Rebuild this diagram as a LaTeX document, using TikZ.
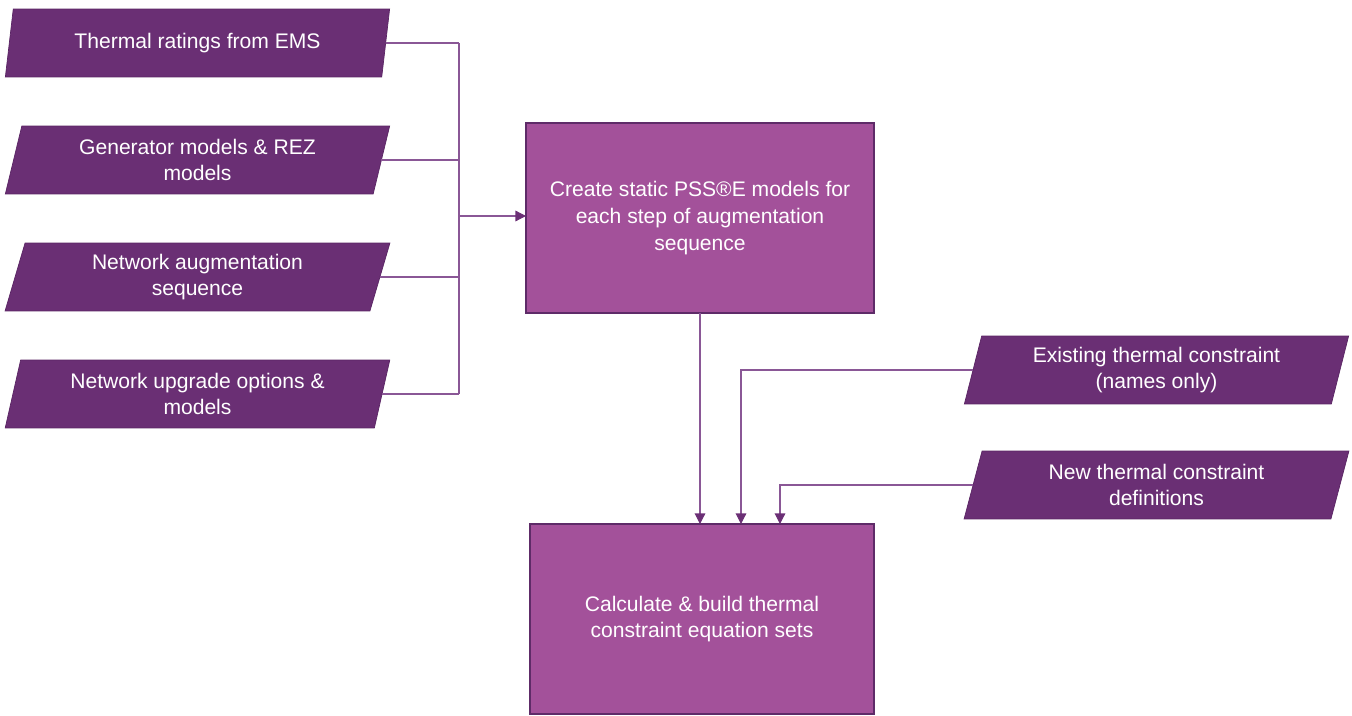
\documentclass[tikz,border=0pt]{standalone}
\usepackage{fontspec}
\setmainfont{Liberation Sans}
\usetikzlibrary{shapes.geometric,arrows.meta,positioning,calc}
\definecolor{inputfill}{HTML}{6A2F74}
\definecolor{inputdraw}{HTML}{5A2564}
\definecolor{procfill}{HTML}{A3519A}
\definecolor{procdraw}{HTML}{5E2B68}
\definecolor{linkcol}{HTML}{8A5796}
\definecolor{tipcol}{HTML}{6B2F75}

\begin{document}
\begin{tikzpicture}[x=0.02cm, y=-0.02cm
    , input/.style = {trapezium, trapezium left angle=75, trapezium right angle=105,
        trapezium stretches=true, minimum width=7.7cm, minimum height=1.36cm,
        fill=inputfill, draw=inputdraw, thin, text=white, align=center,
        inner sep=0pt, outer sep=0pt, font=\fontsize{12}{14.8}\selectfont}
    , process/.style = {rectangle, fill=procfill, draw=procdraw, line width=1.2pt,
        text=white, align=center, inner sep=0pt, outer sep=0pt,
        minimum height=3.8cm, font=\fontsize{12}{15.3}\selectfont}
    , link/.style = {draw=linkcol, line width=0.6pt}
    , feed/.style = {link, -{Triangle[width=6pt,length=6pt,color=tipcol]}}
]
\useasboundingbox (0,0) rectangle (1352,716);

% inputs on the left
\node[input] (thermal)   at (197.5, 43)  {Thermal ratings from EMS};
\node[input] (generator) at (197.5, 160) {Generator models \& REZ\\models};
\node[input] (augment)   at (197.5, 277) {Network augmentation\\sequence};
\node[input] (upgrade)   at (197.5, 394) {Network upgrade options \&\\models};

% processing steps
\node[process, minimum width=6.96cm] (create) at (700, 218)
    {Create static PSS®E models for\\each step of augmentation\\sequence};
\node[process, minimum width=6.88cm] (equations) at (702, 619)
    {Calculate \& build thermal\\constraint equation sets};

% inputs on the right
\node[input] (existing) at (1156.5, 370) {Existing thermal constraint\\(names only)};
\node[input] (newdef)   at (1156.5, 485) {New thermal constraint\\definitions};

% connectors
\coordinate (merge) at (459, 216);
\foreach \n in {thermal, generator, augment, upgrade}
    \draw[link] (\n.east) -- (\n.east -| merge);
\draw[link] (thermal.east -| merge) -- (upgrade.east -| merge);
\draw[feed] (merge) -- (merge -| create.west);
\draw[feed] (create.south) -- (create.south |- equations.north);
\draw[feed] (existing.west) -| ($(equations.north)+(39,0)$);
\draw[feed] (newdef.west) -| ($(equations.north)+(78,0)$);
\end{tikzpicture}
\end{document}
